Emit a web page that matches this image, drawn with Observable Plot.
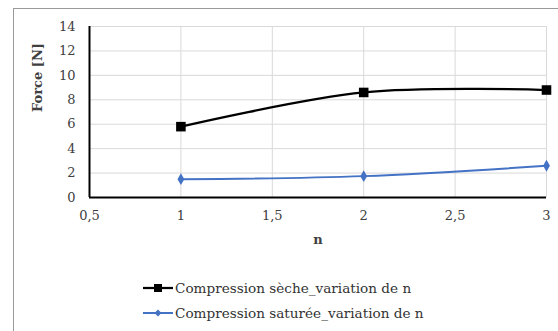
<!DOCTYPE html>
<html>
<head>
<meta charset="utf-8">
<script src="https://cdn.jsdelivr.net/npm/d3@7"></script>
<script src="https://cdn.jsdelivr.net/npm/@observablehq/plot@0.6"></script>
<style>
  body { margin: 0; background: #fff; }
  #wrap { position: relative; width: 558px; height: 331px; overflow: hidden; background:#fff; font-family: "DejaVu Serif", "Liberation Serif", serif; }
  #frame { position: absolute; left: 13px; top: 8px; width: 560px; height: 340px; border-top: 1.5px solid #9a9a9a; border-left: 1.5px solid #9a9a9a; }
  #chart { position: absolute; left: 0; top: 0; }
  #legend { position: absolute; left: 143px; top: 275px; font-size: 13.6px; color: #333; }
  .row { display: flex; align-items: center; height: 25px; }
  .row svg { margin-right: 2px; }
</style>
</head>
<body>
<div id="wrap">
  <div id="frame"></div>
  <div id="chart"></div>
  <div id="legend"></div>
</div>
<script>
const nValues = [1, 2, 3];
const secheValues = [5.8, 8.6, 8.8];
const satureeValues = [1.5, 1.75, 2.6];
const seriesNames = ["Compression sèche_variation de n", "Compression saturée_variation de n"];
const xTicks = [0.5, 1, 1.5, 2, 2.5, 3];
const yTicks = [0, 2, 4, 6, 8, 10, 12, 14];
const xLabel = "n";
const yLabel = "Force [N]";

const black = "#000000";
const blue = "#4472C4";

const sechePts = nValues.map((n, i) => ({n, f: secheValues[i]}));
const saturePts = nValues.map((n, i) => ({n, f: satureeValues[i]}));

const fmt = d => String(d).replace(".", ",");

const chart = Plot.plot({
  width: 558,
  height: 260,
  marginLeft: 89,
  marginRight: 12,
  marginTop: 26,
  marginBottom: 63,
  style: { fontFamily: "DejaVu Serif, Liberation Serif, serif", fontSize: "13px", color: "#404040", background: "transparent", overflow: "visible" },
  x: { domain: [0.5, 3] },
  y: { domain: [0, 14] },
  marks: [
    Plot.ruleX(xTicks.filter(d => d > 0.5), { y1: 0, y2: 14, stroke: "#d9d9d9", strokeWidth: 1 }),
    Plot.ruleY(yTicks.filter(d => d > 0), { x1: 0.5, x2: 3, stroke: "#d9d9d9", strokeWidth: 1 }),
    Plot.axisX({ ticks: xTicks, tickFormat: fmt, tickSize: 0, tickPadding: 13, label: null }),
    Plot.axisY({ ticks: yTicks, tickSize: 0, tickPadding: 14, label: null }),
    Plot.ruleX([0.5], { y1: 0, y2: 14, stroke: "#000", strokeWidth: 2 }),
    Plot.ruleY([0], { x1: 0.5, x2: 3, stroke: "#000", strokeWidth: 2 }),
    Plot.line(saturePts, { x: "n", y: "f", stroke: blue, strokeWidth: 2, curve: "catmull-rom" }),
    Plot.dot(saturePts, { x: "n", y: "f", fill: blue, stroke: null, symbol: "diamond", r: 3.6 }),
    Plot.line(sechePts, { x: "n", y: "f", stroke: black, strokeWidth: 2.25, curve: "catmull-rom" }),
    Plot.dot(sechePts, { x: "n", y: "f", fill: black, stroke: null, symbol: "square", r: 5.4 }),
    Plot.text([xLabel], { frameAnchor: "bottom", dy: 46, text: d => d, fontWeight: "bold", fontSize: 13, fill: "#404040" }),
    Plot.text([yLabel], { frameAnchor: "left", dx: -52, rotate: -90, text: d => d, fontWeight: "bold", fontSize: 13, fill: "#404040" })
  ]
});
document.getElementById("chart").appendChild(chart);

const legend = document.getElementById("legend");
const colors = [black, blue];
seriesNames.forEach((name, i) => {
  const row = document.createElement("div");
  row.className = "row";
  const marker = i === 0
    ? `<rect x="11" y="2" width="8" height="8" fill="${black}"/>`
    : `<path d="M15 2.5 L18.5 6 L15 9.5 L11.5 6 Z" fill="${blue}"/>`;
  row.innerHTML = `<svg width="30" height="12"><line x1="0" x2="30" y1="6" y2="6" stroke="${colors[i]}" stroke-width="${i===0?2.25:2}"/>${marker}</svg><span>${name}</span>`;
  legend.appendChild(row);
});
</script>
</body>
</html>
